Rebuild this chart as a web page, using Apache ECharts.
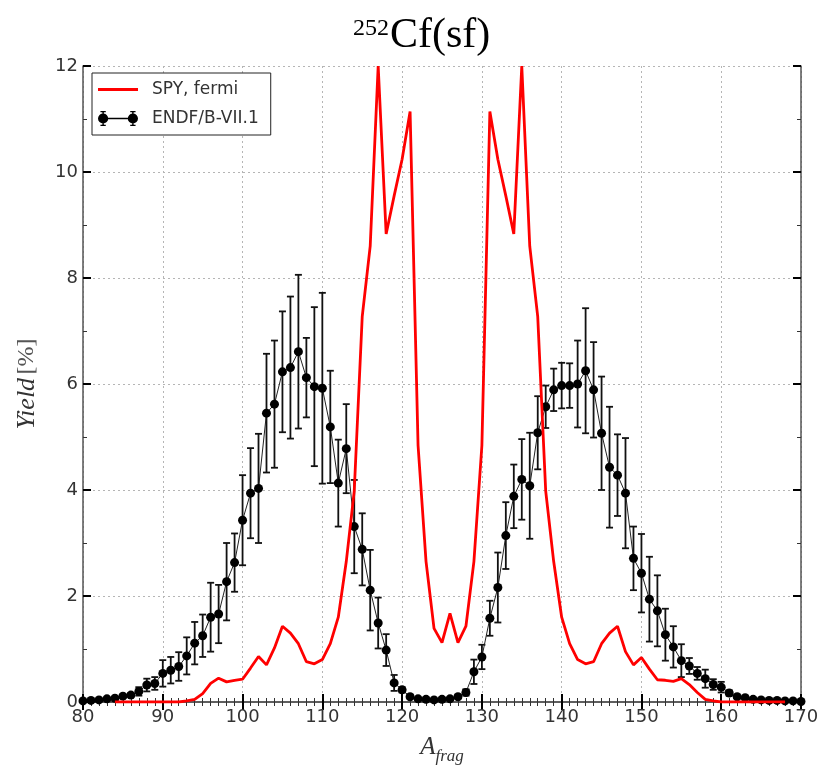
<!DOCTYPE html>
<html>
<head>
<meta charset="utf-8">
<script src="https://cdn.jsdelivr.net/npm/echarts@6/dist/echarts.min.js"></script>
<style>
html,body{margin:0;padding:0;background:#fff;}
#chart{width:831px;height:767px;}
</style>
</head>
<body>
<div id="chart"></div>
<script>
// Mass numbers A = 80 ... 170
const massNumbers = [80,81,82,83,84,85,86,87,88,89,90,91,92,93,94,95,96,97,98,99,100,101,102,103,104,105,106,107,108,109,110,111,112,113,114,115,116,117,118,119,120,121,122,123,124,125,126,127,128,129,130,131,132,133,134,135,136,137,138,139,140,141,142,143,144,145,146,147,148,149,150,151,152,153,154,155,156,157,158,159,160,161,162,163,164,165,166,167,168,169,170];

// ENDF/B-VII.1 yields [%]
const endfYield = [0.02,0.03,0.04,0.06,0.07,0.11,0.13,0.20,0.32,0.35,0.54,0.60,0.67,0.87,1.11,1.25,1.60,1.66,2.27,2.63,3.43,3.94,4.03,5.45,5.62,6.23,6.31,6.61,6.12,5.95,5.92,5.19,4.13,4.78,3.31,2.88,2.11,1.49,0.98,0.36,0.23,0.10,0.06,0.05,0.04,0.05,0.06,0.10,0.18,0.57,0.85,1.58,2.16,3.14,3.88,4.20,4.08,5.08,5.57,5.89,5.97,5.97,6.00,6.25,5.89,5.07,4.43,4.28,3.94,2.71,2.43,1.94,1.72,1.27,1.04,0.78,0.68,0.54,0.44,0.33,0.28,0.17,0.10,0.08,0.05,0.04,0.03,0.03,0.02,0.02,0.01];

// ENDF/B-VII.1 uncertainties [%]
const endfError = [0.01,0.01,0.01,0.02,0.02,0.03,0.04,0.08,0.12,0.12,0.25,0.25,0.27,0.35,0.40,0.40,0.65,0.55,0.73,0.55,0.85,0.85,1.03,1.12,1.20,1.14,1.34,1.45,0.75,1.50,1.80,1.06,0.82,0.84,0.88,0.68,0.76,0.48,0.30,0.15,0.05,0.03,0.02,0.02,0.02,0.02,0.02,0.03,0.06,0.23,0.23,0.33,0.66,0.63,0.60,0.76,1.00,0.69,0.40,0.40,0.43,0.42,0.82,1.18,0.90,1.07,1.14,0.77,1.04,0.60,0.74,0.80,0.67,0.49,0.39,0.31,0.15,0.12,0.17,0.10,0.10,0.05,0.02,0.02,0.02,0.01,0.01,0.01,0.01,0.01,0.01];

// SPY, fermi yields [%] (null = not drawn)
const spyYield = [null,null,null,null,0,0,0,0,0,0,0,0,0,0.02,0.05,0.16,0.35,0.45,0.38,0.41,0.43,0.64,0.86,0.70,1.02,1.43,1.30,1.10,0.76,0.72,0.80,1.10,1.60,2.65,3.98,7.27,8.60,12.0,8.83,9.55,10.24,11.14,4.84,2.65,1.39,1.12,1.67,1.12,1.43,2.65,4.84,11.14,10.24,9.55,8.83,12.0,8.60,7.27,3.98,2.65,1.60,1.10,0.80,0.72,0.76,1.10,1.30,1.43,0.95,0.70,0.84,0.62,0.42,0.41,0.39,0.44,0.33,0.18,0.05,0.02,0,0,0,0,0,0,0,0,0,null,null];

const xTicks = {min: 80, max: 170, interval: 10};
const yTicks = {min: 0, max: 12, interval: 2};

const endfPoints = massNumbers.map((a, i) => [a, endfYield[i]]);
const endfBars = massNumbers.map((a, i) => [a, endfYield[i], endfError[i]]);
const spyPoints = massNumbers.map((a, i) => [a, spyYield[i]]);

const chart = echarts.init(document.getElementById('chart'), null, {renderer: 'canvas'});

const tickLabel = {fontFamily: 'DejaVu Sans', fontSize: 18, color: '#333'};
const majorTick = {show: true, inside: true, length: 8, lineStyle: {color: '#000', width: 2}};
const minorTick = {show: true, length: 4, lineStyle: {color: '#333', width: 1}};
const spine = {show: true, lineStyle: {color: '#555', width: 1.5}};
const grid = {show: true, lineStyle: {color: '#b5b5b5', width: 1, type: [2, 3]}};

const endfIcon = 'path://M2,7.4 H38 V8.6 H2 Z M1.2,8 A4.8,4.8 0 1,1 10.8,8 A4.8,4.8 0 1,1 1.2,8 Z M29.2,8 A4.8,4.8 0 1,1 38.8,8 A4.8,4.8 0 1,1 29.2,8 Z M5.3,1 H6.7 V15 H5.3 Z M3.5,1 H8.5 V2.2 H3.5 Z M3.5,13.8 H8.5 V15 H3.5 Z M33.3,1 H34.7 V15 H33.3 Z M31.5,1 H36.5 V2.2 H31.5 Z M31.5,13.8 H36.5 V15 H31.5 Z';
const spyIcon = 'path://M0,0 H40 V2.8 H0 Z';

const option = {
  animation: false,
  backgroundColor: '#fff',
  grid: {left: 83, right: 30, top: 66, bottom: 65, containLabel: false, outerBoundsMode: 'none'},
  graphic: [
    {type: 'text', left: 353, top: 17, style: {text: '252', font: '24px "Liberation Serif"', fill: '#000'}},
    {type: 'text', left: 390, top: 15, style: {text: 'Cf(sf)', font: '42px "Liberation Serif"', fill: '#000'}}
  ],
  legend: {
    orient: 'vertical',
    left: 92, top: 73,
    padding: [8, 12, 8, 6],
    itemGap: 12,
    itemWidth: 40, itemHeight: 15,
    borderColor: '#222', borderWidth: 1,
    backgroundColor: '#fff',
    textStyle: {fontFamily: 'DejaVu Sans', fontSize: 17, color: '#333', padding: [0, 0, 0, 9]},
    data: [
      {name: 'SPY, fermi', icon: spyIcon},
      {name: 'ENDF/B-VII.1', icon: endfIcon}
    ]
  },
  xAxis: [
    {
      type: 'value', position: 'bottom',
      min: xTicks.min, max: xTicks.max, interval: xTicks.interval,
      axisLine: spine, axisTick: majorTick, minorTick: Object.assign({splitNumber: 10}, minorTick),
      splitLine: grid,
      axisLabel: Object.assign({margin: 6}, tickLabel),
      name: '{a|A}{s|frag}', nameLocation: 'middle', nameGap: 28,
      nameTextStyle: {
        rich: {
          a: {fontFamily: 'Liberation Serif', fontStyle: 'italic', fontSize: 25, color: '#333'},
          s: {fontFamily: 'Liberation Serif', fontStyle: 'italic', fontSize: 17, color: '#333', padding: [18, 0, 0, 0]}
        }
      }
    },
    {
      type: 'value', position: 'top',
      min: xTicks.min, max: xTicks.max, interval: xTicks.interval,
      axisLine: spine, axisTick: majorTick, minorTick: Object.assign({splitNumber: 10}, minorTick),
      splitLine: {show: false}, axisLabel: {show: false}
    }
  ],
  yAxis: [
    {
      type: 'value', position: 'left',
      min: yTicks.min, max: yTicks.max, interval: yTicks.interval,
      axisLine: spine, axisTick: majorTick, minorTick: Object.assign({splitNumber: 2}, minorTick),
      splitLine: grid,
      axisLabel: Object.assign({margin: 5}, tickLabel),
      name: '{i|Yield} {n|[%]}', nameLocation: 'middle', nameGap: 43, nameRotate: 90,
      nameTextStyle: {
        rich: {
          i: {fontFamily: 'Liberation Serif', fontStyle: 'italic', fontSize: 26, color: '#333'},
          n: {fontFamily: 'Liberation Serif', fontSize: 24, color: '#555'}
        }
      }
    },
    {
      type: 'value', position: 'right',
      min: yTicks.min, max: yTicks.max, interval: yTicks.interval,
      axisLine: spine, axisTick: majorTick, minorTick: Object.assign({splitNumber: 2}, minorTick),
      splitLine: {show: false}, axisLabel: {show: false}
    }
  ],
  series: [
    {
      name: 'ENDF/B-VII.1', type: 'custom', xAxisIndex: 0, yAxisIndex: 0, z: 2,
      data: endfBars,
      itemStyle: {color: '#000'},
      renderItem: function (params, api) {
        const x = api.value(0), y = api.value(1), e = api.value(2);
        const top = api.coord([x, y + e]);
        const bot = api.coord([x, Math.max(0, y - e)]);
        const cw = 3.5;
        const st = {stroke: '#111', lineWidth: 1.8, fill: null};
        return {
          type: 'group',
          children: [
            {type: 'line', shape: {x1: top[0], y1: top[1], x2: bot[0], y2: bot[1]}, style: st},
            {type: 'line', shape: {x1: top[0] - cw, y1: top[1], x2: top[0] + cw, y2: top[1]}, style: st},
            {type: 'line', shape: {x1: bot[0] - cw, y1: bot[1], x2: bot[0] + cw, y2: bot[1]}, style: st}
          ]
        };
      }
    },
    {
      name: 'ENDF/B-VII.1', type: 'line', xAxisIndex: 0, yAxisIndex: 0, z: 3,
      data: endfPoints,
      symbol: 'circle', symbolSize: 9, showAllSymbol: true,
      itemStyle: {color: '#000'},
      lineStyle: {color: '#222', width: 1}
    },
    {
      name: 'SPY, fermi', type: 'line', xAxisIndex: 0, yAxisIndex: 0, z: 4,
      data: spyPoints,
      symbol: 'none', connectNulls: false, clip: true,
      itemStyle: {color: '#ff0000'},
      lineStyle: {color: '#ff0000', width: 2.8}
    }
  ]
};
chart.setOption(option);
</script>
</body>
</html>
